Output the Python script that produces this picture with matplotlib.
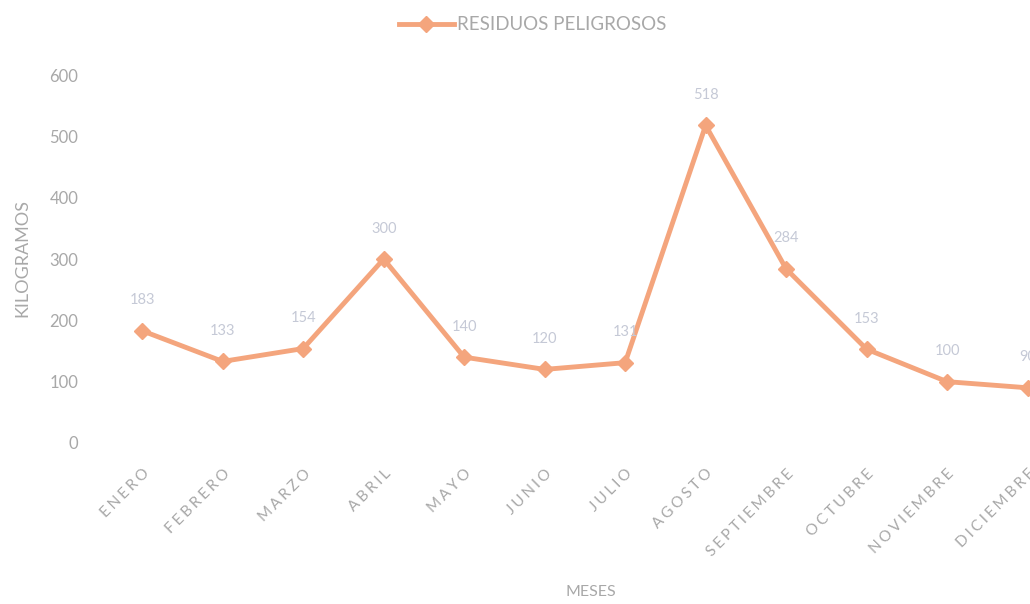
import matplotlib
matplotlib.use('Agg')
import matplotlib.pyplot as plt

plt.rcParams['font.family'] = ['Lato', 'DejaVu Sans']

meses = ['ENERO', 'FEBRERO', 'MARZO', 'ABRIL', 'MAYO', 'JUNIO',
         'JULIO', 'AGOSTO', 'SEPTIEMBRE', 'OCTUBRE', 'NOVIEMBRE', 'DICIEMBRE']
kilos = [183, 133, 154, 300, 140, 120, 131, 518, 284, 153, 100, 90]
y_ticks = [0, 100, 200, 300, 400, 500, 600]

line_col  = '#F4A57D'
text_col  = '#A8A8A8'
label_col = '#C5C9D6'

fig = plt.figure(figsize=(10.30, 6.04), dpi=100)
ax = fig.add_axes([0.099, 0.2666, 0.901, 0.609])

x = list(range(len(meses)))
ax.plot(x, kilos, color=line_col, lw=3.5, marker='D', markersize=8,
        label='RESIDUOS PELIGROSOS', clip_on=False, zorder=3)

for xi, v in zip(x, kilos):
    ax.annotate(str(v), (xi, v), xytext=(0, 22), textcoords='offset points',
                ha='center', va='center', fontsize=10.5, color=label_col,
                annotation_clip=False)

# the month names are drawn letter-spaced in the source chart
spaced = ['\u2009\u200a'.join(m) for m in meses]

ax.set_xlim(-0.5, 11.03)
ax.set_ylim(0, 600)
ax.set_yticks(y_ticks)
ax.set_xticks(x)
ax.set_xticklabels(spaced, rotation=45, ha='right', rotation_mode='anchor', fontsize=11)
for spine in ax.spines.values():
    spine.set_visible(False)
ax.tick_params(axis='both', length=0, colors=text_col)
ax.tick_params(axis='x', pad=17)
ax.tick_params(axis='y', pad=17, labelsize=12)

fig.text(22 / 1030, 1 - 258 / 604, 'KILOGRAMOS', rotation=90, ha='center', va='center',
         fontsize=13, color=text_col)
fig.text(591 / 1030, 1 - 592 / 604, 'MESES', ha='center', va='center',
         fontsize=11.5, color=text_col)

fig.legend(loc='center', bbox_to_anchor=(533 / 1030, 1 - 25 / 604), frameon=False,
           handlelength=2.9, fontsize=13.5, labelcolor=text_col, handletextpad=0.2)

fig.savefig('out.png', dpi=100, facecolor='white')
